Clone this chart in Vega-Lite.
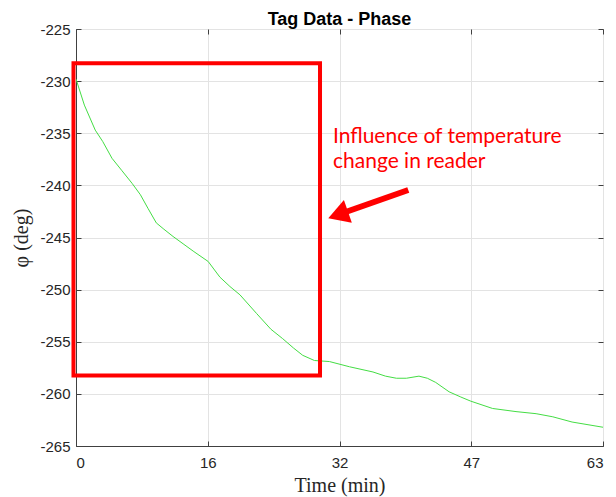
{
  "$schema": "https://vega.github.io/schema/vega-lite/v6.json",
  "width": 527,
  "height": 417,
  "autosize": "none",
  "padding": {"left": 76, "top": 29, "right": 13, "bottom": 51},
  "background": "white",
  "config": {
    "view": {"stroke": "#555555", "strokeWidth": 1},
    "axis": {
      "labelFont": "Liberation Sans",
      "labelFontSize": 15,
      "labelColor": "#262626",
      "domainColor": "#404040",
      "tickColor": "#404040",
      "gridColor": "#e3e3e3",
      "gridWidth": 1,
      "tickSize": -5,
      "titleFont": "Liberation Serif",
      "titleFontSize": 20,
      "titleFontWeight": "normal",
      "titleColor": "#262626"
    }
  },
  "title": {
    "text": "Tag Data - Phase",
    "font": "Liberation Sans",
    "fontSize": 18,
    "fontWeight": "bold",
    "color": "#000000",
    "anchor": "middle",
    "baseline": "alphabetic",
    "offset": -21
  },
  "datasets": {
    "series": [
      {"time": 0, "phase": -229.8},
      {"time": 1, "phase": -232.3},
      {"time": 2.3, "phase": -234.7},
      {"time": 3.2, "phase": -235.8},
      {"time": 4.3, "phase": -237.4},
      {"time": 5.5, "phase": -238.6},
      {"time": 6.7, "phase": -239.8},
      {"time": 7.7, "phase": -240.9},
      {"time": 8.6, "phase": -242.2},
      {"time": 9.6, "phase": -243.6},
      {"time": 10.5, "phase": -244.2},
      {"time": 11.6, "phase": -244.9},
      {"time": 12.8, "phase": -245.6},
      {"time": 14.0, "phase": -246.3},
      {"time": 15.8, "phase": -247.3},
      {"time": 17.2, "phase": -248.8},
      {"time": 18.4, "phase": -249.7},
      {"time": 19.6, "phase": -250.5},
      {"time": 21.6, "phase": -252.3},
      {"time": 23.3, "phase": -253.8},
      {"time": 24.7, "phase": -254.7},
      {"time": 26.0, "phase": -255.6},
      {"time": 27.1, "phase": -256.3},
      {"time": 28.5, "phase": -256.8},
      {"time": 30.3, "phase": -256.9},
      {"time": 32.7, "phase": -257.4},
      {"time": 35.5, "phase": -257.9},
      {"time": 37.0, "phase": -258.3},
      {"time": 38.3, "phase": -258.5},
      {"time": 39.5, "phase": -258.5},
      {"time": 41.0, "phase": -258.3},
      {"time": 42.0, "phase": -258.5},
      {"time": 43.0, "phase": -258.9},
      {"time": 44.6, "phase": -259.8},
      {"time": 46.0, "phase": -260.3},
      {"time": 47.2, "phase": -260.7},
      {"time": 49.8, "phase": -261.4},
      {"time": 52.6, "phase": -261.7},
      {"time": 55.0, "phase": -261.9},
      {"time": 57.0, "phase": -262.2},
      {"time": 59.3, "phase": -262.7},
      {"time": 63.0, "phase": -263.2}
    ],
    "box": [{"x1": -0.3, "x2": 29.17, "y1": -228.29, "y2": -258.24}],
    "arrow": [{"x1": 39.72, "y1": -240.44, "x2": 31.9, "y2": -242.65}],
    "head": [{"x": 31.33, "y": -242.83}],
    "note": [
      {"x": 30.72, "y": -235.94, "label": "Influence of temperature"},
      {"x": 30.72, "y": -238.33, "label": "change in reader"}
    ]
  },
  "layer": [
    {
      "data": {"name": "series"},
      "mark": {"type": "line", "color": "#44dd44", "strokeWidth": 1, "clip": true},
      "encoding": {
        "x": {
          "field": "time", "type": "quantitative",
          "scale": {"domain": [0, 63], "nice": false, "zero": false},
          "axis": {
            "orient": "bottom",
            "values": [0, 15.75, 31.5, 47.25, 63],
            "format": ".0f",
            "title": "Time (min)",
            "grid": true,
            "labelPadding": 14,
            "titlePadding": 5
          }
        },
        "y": {
          "field": "phase", "type": "quantitative",
          "scale": {"domain": [-265, -225], "nice": false, "zero": false},
          "axis": {
            "orient": "left",
            "values": [-265, -260, -255, -250, -245, -240, -235, -230, -225],
            "labelExpr": "replace(datum.label, '\u2212', '-')",
            "title": "φ (deg)",
            "grid": true,
            "labelPadding": 11,
            "titlePadding": 8
          }
        }
      }
    },
    {
      "data": {"name": "box"},
      "mark": {"type": "rect", "filled": false, "stroke": "#ff0000", "strokeWidth": 4, "clip": false},
      "encoding": {
        "x": {"field": "x1", "type": "quantitative",
          "axis": {"orient": "top", "values": [0, 15.75, 31.5, 47.25, 63], "labels": false, "title": null, "grid": false, "domain": false}},
        "x2": {"field": "x2"},
        "y": {"field": "y1", "type": "quantitative",
          "axis": {"orient": "right", "values": [-265, -260, -255, -250, -245, -240, -235, -230, -225], "labels": false, "title": null, "grid": false, "domain": false}},
        "y2": {"field": "y2"}
      }
    },
    {
      "data": {"name": "arrow"},
      "mark": {"type": "rule", "color": "#ff0000", "strokeWidth": 6, "strokeCap": "butt", "clip": false},
      "encoding": {
        "x": {"field": "x1", "type": "quantitative", "axis": null},
        "y": {"field": "y1", "type": "quantitative", "axis": null},
        "x2": {"field": "x2"},
        "y2": {"field": "y2"}
      }
    },
    {
      "data": {"name": "head"},
      "mark": {"type": "point", "shape": "triangle-up", "filled": true, "color": "#ff0000", "opacity": 1, "size": 576, "angle": 250.7, "clip": false},
      "encoding": {
        "x": {"field": "x", "type": "quantitative", "axis": null},
        "y": {"field": "y", "type": "quantitative", "axis": null}
      }
    },
    {
      "data": {"name": "note"},
      "mark": {"type": "text", "align": "left", "baseline": "alphabetic", "font": "Lato", "fontSize": 21, "color": "#ff0000", "clip": false},
      "encoding": {
        "x": {"field": "x", "type": "quantitative", "axis": null},
        "y": {"field": "y", "type": "quantitative", "axis": null},
        "text": {"field": "label"}
      }
    }
  ],
  "resolve": {"axis": {"x": "independent", "y": "independent"}}
}
